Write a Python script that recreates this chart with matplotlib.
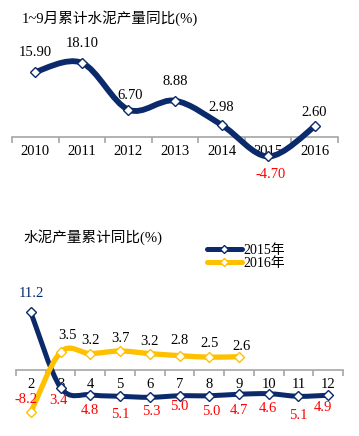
import numpy as np
import matplotlib
matplotlib.use('Agg')
import matplotlib.pyplot as plt
from matplotlib.path import Path
from matplotlib.patches import PathPatch
from matplotlib.lines import Line2D

plt.rcParams['font.family'] = ['Liberation Serif', 'Noto Sans CJK SC', 'DejaVu Sans']

NAVY = '#0b2a6b'
GOLD = '#ffc000'
GRAY = '#a6a6a6'

# chart 1
years = ['2010', '2011', '2012', '2013', '2014', '2015', '2016']
ytd = [15.90, 18.10, 6.70, 8.88, 2.98, -4.70, 2.60]

# chart 2
months = ['2', '3', '4', '5', '6', '7', '8', '9', '10', '11', '12']
y2015 = [11.2, -3.4, -4.8, -5.1, -5.3, -5.0, -5.0, -4.7, -4.6, -5.1, -4.9]
y2016 = [-8.2, 3.5, 3.2, 3.7, 3.2, 2.8, 2.5, 2.6]

W, H = 359, 436


def px_axes(fig, left, top, right, bottom):
    return fig.add_axes([left / W, 1 - bottom / H, (right - left) / W, (bottom - top) / H])


def smooth_path(xs, ys):
    # excel style smoothed line: bezier through the points
    pts = np.column_stack([xs, ys]).astype(float)
    verts = [pts[0]]
    codes = [Path.MOVETO]
    n = len(pts)
    for i in range(n - 1):
        p0 = pts[i - 1] if i > 0 else pts[i]
        p1 = pts[i]
        p2 = pts[i + 1]
        p3 = pts[i + 2] if i + 2 < n else pts[i + 1]
        c1 = p1 + (p2 - p0) / 6.0
        c2 = p2 - (p3 - p1) / 6.0
        verts += [c1, c2, p2]
        codes += [Path.CURVE4] * 3
    return Path(verts, codes)


def draw_series(ax, vals, color, lw, z):
    xs = np.arange(len(vals))
    ax.add_patch(PathPatch(smooth_path(xs, vals), fill=False, edgecolor=color,
                           lw=lw, capstyle='round', joinstyle='round', zorder=z))
    ax.plot(xs, vals, ls='none', marker='D', ms=5.5, mfc='white', mec=color,
            mew=1.0, zorder=z + 0.5)


def style_axis(ax, labels, pad):
    for s in ['top', 'right', 'left']:
        ax.spines[s].set_visible(False)
    ax.spines['bottom'].set_position(('data', 0))
    ax.spines['bottom'].set_color(GRAY)
    ax.spines['bottom'].set_linewidth(1.2)
    ax.set_yticks([])
    n = len(labels)
    ax.set_xticks(range(n))
    ax.set_xticklabels(labels, fontsize=10.5)
    ax.set_xticks(np.arange(-0.5, n, 1.0), minor=True)
    ax.tick_params(axis='x', which='major', length=0, pad=pad)
    ax.tick_params(axis='x', which='minor', length=4, width=1.2, color=GRAY)
    ax.set_xlim(-0.5, n - 0.5)
    ax.patch.set_alpha(0)


fig = plt.figure(figsize=(W / 100, H / 100), dpi=100)

# ---- top chart ----
ax1 = px_axes(fig, 12, 38.6, 338, 170)
ax1.set_ylim(-8, 24)
style_axis(ax1, years, 6)
draw_series(ax1, ytd, NAVY, 4.2, 3)
lab_off1 = [(0, 19), (0, 19), (2, 14), (0, 19), (0, 17), (2, -18), (-1, 14)]
for i, v in enumerate(ytd):
    dx, dy = lab_off1[i]
    ax1.annotate('%.2f' % v, (i, v), xytext=(dx, dy), textcoords='offset pixels',
                 ha='center', va='center', fontsize=10.5,
                 color='red' if v < 0 else 'black', zorder=6)
fig.text(22 / W, 1 - 18 / H, '1~9月累计水泥产量同比(%)', fontsize=10.5, va='center', ha='left')

# ---- bottom chart ----
ax2 = px_axes(fig, 16, 298, 343, 421.5)
ax2.set_ylim(-10, 14)
style_axis(ax2, months, 6)
draw_series(ax2, y2015, NAVY, 3.6, 3)
draw_series(ax2, y2016, GOLD, 3.8, 4)

off2015 = [(0, 19), (-2, -13), (0, -16), (0, -18), (2, -14), (0, -11), (2, -16), (0, -16), (-1, -15), (0, -19), (-5, -12)]
for i, v in enumerate(y2015):
    dx, dy = off2015[i]
    col = NAVY if v > 0 else 'red'
    ax2.annotate('%.1f' % abs(v), (i, v), xytext=(dx, dy), textcoords='offset pixels',
                 ha='center', va='center', fontsize=10.5, color=col, zorder=6)
off2016 = [(-5, 13), (7, 17), (0, 13), (0, 13), (0, 12), (0, 15), (0, 14), (3, 10)]
for i, v in enumerate(y2016):
    dx, dy = off2016[i]
    col = 'red' if v < 0 else 'black'
    ax2.annotate('%.1f' % v, (i, v), xytext=(dx, dy), textcoords='offset pixels',
                 ha='center', va='center', fontsize=10.5, color=col, zorder=6)

fig.text(23 / W, 1 - 237 / H, '水泥产量累计同比(%)', fontsize=10.5, va='center', ha='left')

handles = [Line2D([], [], color=NAVY, lw=3.6, marker='D', ms=4, mfc='white', mec=NAVY, solid_capstyle='round'),
           Line2D([], [], color=GOLD, lw=3.6, marker='D', ms=4, mfc='white', mec=GOLD, solid_capstyle='round')]
fig.legend(handles, ['2015年', '2016年'], loc='upper left', bbox_to_anchor=(207 / W, 1 - 244 / H),
           frameon=False, fontsize=10, handlelength=2.5, handletextpad=0.15,
           labelspacing=0.0, borderpad=0, borderaxespad=0)

fig.savefig('out.png', dpi=100, facecolor='white')
